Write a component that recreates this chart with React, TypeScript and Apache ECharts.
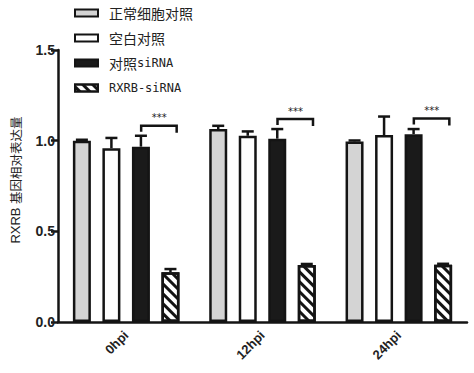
import React, { useEffect, useRef } from "react";
import * as echarts from "echarts";

const categories = ["0hpi", "12hpi", "24hpi"];
const seriesNames = ["正常细胞对照", "空白对照", "对照siRNA", "RXRB-siRNA"];
const normalVals = [1.0, 1.064, 0.996];
const normalErr = [0.005, 0.018, 0.005];
const blankVals = [0.958, 1.027, 1.031];
const blankErr = [0.057, 0.024, 0.102];
const ctrlVals = [0.967, 1.011, 1.036];
const ctrlErr = [0.06, 0.053, 0.028];
const rxrbVals = [0.274, 0.314, 0.316];
const rxrbErr = [0.018, 0.006, 0.005];
const bracketY = [1.082, 1.119, 1.122];
const yTicks = [0, 0.5, 1.0, 1.5];

const BAR_W = 18;
const BAR_GAP = 0.64;
const STEP = BAR_W * (1 + BAR_GAP);
const INK = "#141414";

function richName(name: string) {
  const parts = name.match(/[\u4e00-\u9fff]+|[^\u4e00-\u9fff]+/g) || [];
  return parts
    .map((p) => (/[\u4e00-\u9fff]/.test(p) ? `{cn|${p}}` : `{en|${p}}`))
    .join("");
}

export default function App() {
  const ref = useRef<HTMLDivElement>(null);
  useEffect(() => {
    document.body.style.margin = "0";
    const chart = echarts.init(ref.current!, null, { renderer: "svg" });
    const allVals = [normalVals, blankVals, ctrlVals, rxrbVals];
    const allErr = [normalErr, blankErr, ctrlErr, rxrbErr];
    const errData: number[][] = [];
    allVals.forEach((vals, s) =>
      vals.forEach((v, c) => errData.push([c, s, v, allErr[s][c]]))
    );
    const bracketData = bracketY.map((y, c) => [c, y]);
    const fills = ["#d4d4d4", "#ffffff", "#1a1a1a", "#ffffff"];
    const barSeries = seriesNames.map((name, i) => ({
      name,
      type: "bar",
      data: allVals[i],
      barWidth: BAR_W,
      barGap: BAR_GAP * 100 + "%",
      z: 3,
      itemStyle: {
        color: fills[i],
        borderColor: INK,
        borderWidth: 2.5,
        decal:
          i === 3
            ? {
                symbol: "rect",
                symbolSize: 1,
                dashArrayX: [1, 0],
                dashArrayY: [2.5, 4],
                rotation: Math.PI / 4,
                color: INK,
              }
            : "none",
      },
    }));
    const option: any = {
      animation: false,
      aria: { enabled: false, decal: { show: true } },
      grid: { left: 58, right: 7, top: 50, bottom: 51 },
      legend: {
        data: seriesNames,
        orient: "vertical",
        left: 74,
        top: 5,
        padding: 0,
        icon: "rect",
        itemWidth: 23,
        itemHeight: 7,
        itemGap: 9,
        formatter: (n: string) => richName(n),
        textStyle: {
          padding: [0, 0, 0, 6],
          rich: {
            cn: { fontFamily: "Noto Sans CJK SC", fontSize: 14, color: "#222", lineHeight: 16, height: 16 },
            en: { fontFamily: "DejaVu Sans Mono", fontSize: 12, color: "#222", lineHeight: 16, height: 16 },
          },
        },
      },
      xAxis: {
        type: "category",
        data: categories,
        axisLine: { lineStyle: { color: INK, width: 2.5 } },
        axisTick: { alignWithLabel: true, length: 6, lineStyle: { color: INK, width: 2.5 } },
        axisLabel: {
          rotate: 45,
          margin: 11,
          fontFamily: "Liberation Sans",
          fontWeight: "bold",
          fontSize: 13,
          color: "#222",
        },
      },
      yAxis: {
        type: "value",
        min: yTicks[0],
        max: yTicks[yTicks.length - 1],
        interval: 0.5,
        splitLine: { show: false },
        axisLine: { show: true, lineStyle: { color: INK, width: 2.5 } },
        axisTick: { show: true, length: 7, lineStyle: { color: INK, width: 2.5 } },
        axisLabel: {
          formatter: (v: number) => v.toFixed(1),
          margin: 3,
          fontFamily: "Liberation Sans",
          fontWeight: "bold",
          fontSize: 14,
          color: "#222",
        },
      },
      graphic: [
        {
          type: "text",
          x: 15,
          y: 180,
          rotation: Math.PI / 2,
          style: {
            text: "{en|RXRB }{cn|基因相对表达量}",
            textAlign: "center",
            textVerticalAlign: "middle",
            rich: {
              en: { fontFamily: "Liberation Sans", fontSize: 13, fill: "#222" },
              cn: { fontFamily: "Noto Sans CJK SC", fontSize: 12.5, fill: "#222" },
            },
          },
        },
      ],
      series: [
        ...barSeries,
        {
          type: "custom",
          z: 1,
          data: errData,
          encode: { x: 0, y: 2 },
          renderItem: (params: any, api: any) => {
            const c = api.value(0);
            const s = api.value(1);
            const v = api.value(2);
            const e = api.value(3);
            const off = (s - 1.5) * STEP;
            const top = api.coord([c, v]);
            const end = api.coord([c, v + e]);
            const x = top[0] + off;
            return {
              type: "group",
              children: [
                { type: "line", shape: { x1: x, y1: top[1], x2: x, y2: end[1] }, style: { stroke: INK, lineWidth: 2.5 } },
                { type: "line", shape: { x1: x - 6, y1: end[1], x2: x + 6, y2: end[1] }, style: { stroke: INK, lineWidth: 2.5 } },
              ],
            };
          },
        },
        {
          type: "custom",
          z: 4,
          data: bracketData,
          encode: { x: 0, y: 1 },
          renderItem: (params: any, api: any) => {
            const p = api.coord([api.value(0), api.value(1)]);
            const x1 = p[0] + 15;
            const x2 = p[0] + 50.5;
            const y = p[1];
            return {
              type: "group",
              children: [
                {
                  type: "polyline",
                  shape: { points: [[x1, y + 6], [x1, y], [x2, y], [x2, y + 7]] },
                  style: { stroke: INK, lineWidth: 2.5, fill: "none" },
                },
                {
                  type: "text",
                  x: p[0] + 33,
                  y: y - 8,
                  style: {
                    text: "***",
                    fontSize: 10,
                    fontFamily: "DejaVu Sans",
                    fill: "#222",
                    textAlign: "center",
                    textVerticalAlign: "middle",
                  },
                },
              ],
            };
          },
        },
      ],
    };
    chart.setOption(option);
    return () => chart.dispose();
  }, []);
  return <div ref={ref} style={{ width: 474, height: 373 }} />;
}
